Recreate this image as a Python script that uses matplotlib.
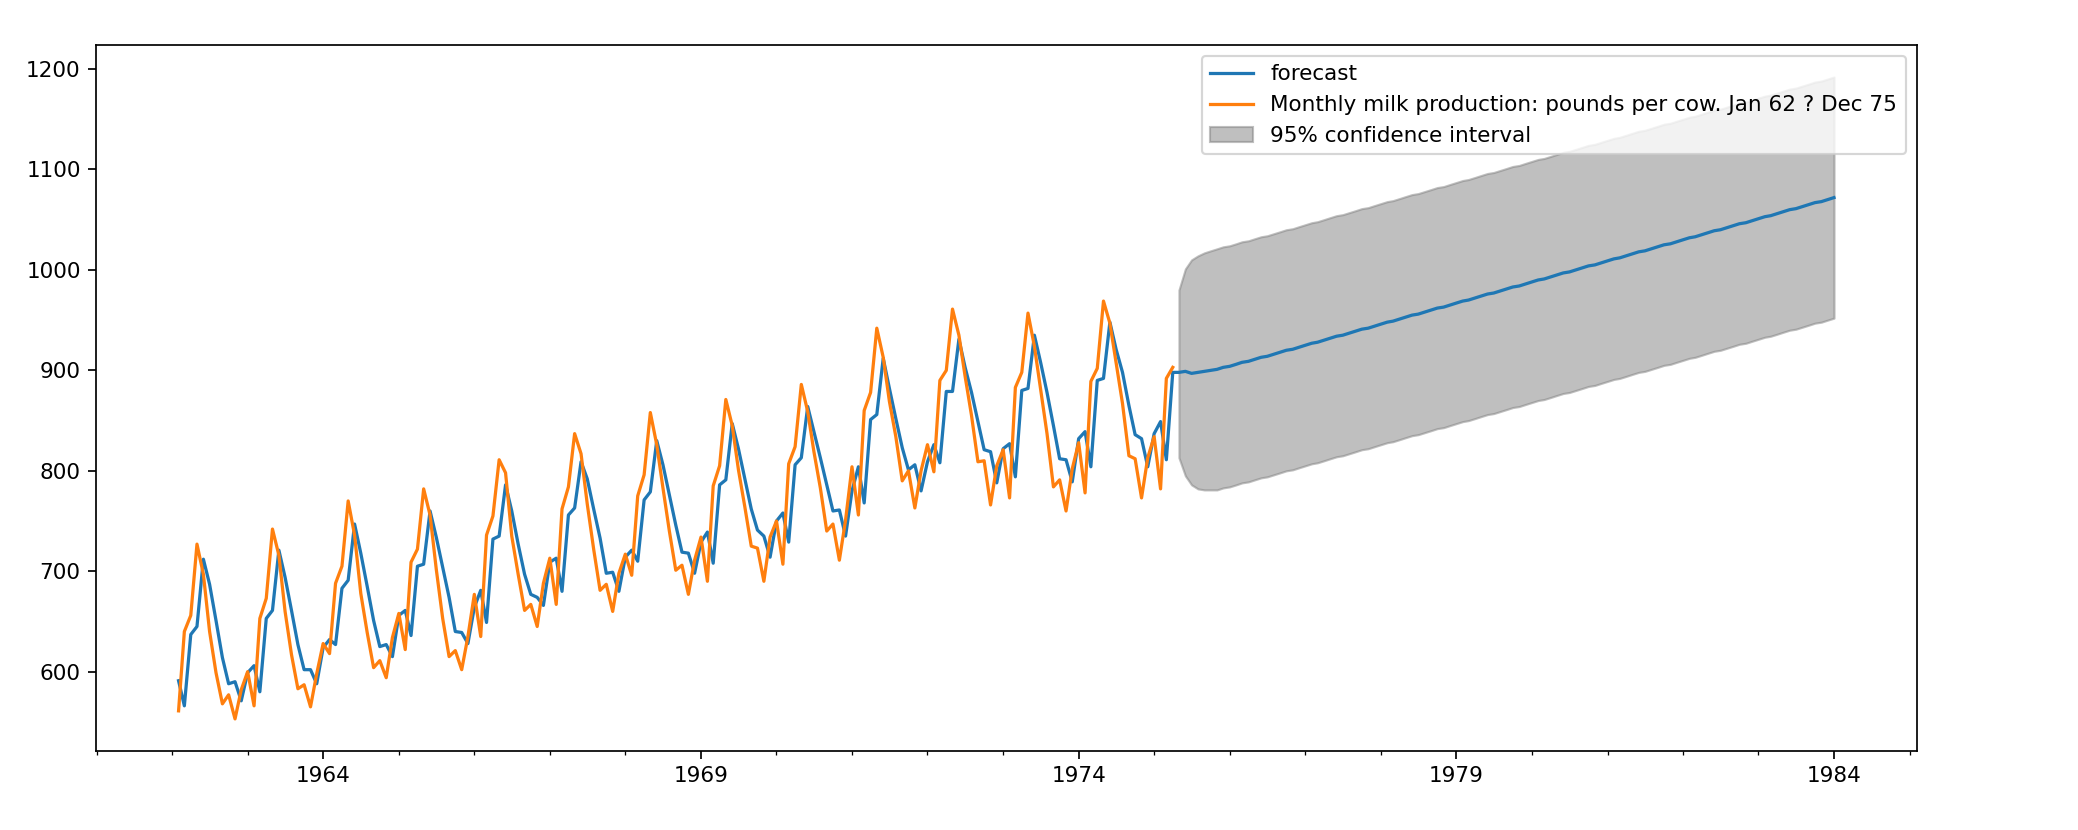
import matplotlib
matplotlib.use("Agg")
import matplotlib.pyplot as plt
import matplotlib.dates as mdates
import pandas as pd

# observed series, Feb 1962 .. Apr 1975
milk = [
    561, 640, 656, 727, 697, 640, 599, 568, 577, 553, 582,
    600, 566, 653, 673, 742, 716, 660, 617, 583, 587, 565, 598,
    628, 618, 688, 705, 770, 736, 678, 639, 604, 611, 594, 634,
    658, 622, 709, 722, 782, 756, 702, 653, 615, 621, 602, 635,
    677, 635, 736, 755, 811, 798, 735, 697, 661, 667, 645, 688,
    713, 667, 762, 784, 837, 817, 767, 722, 681, 687, 660, 698,
    717, 696, 775, 796, 858, 826, 783, 740, 701, 706, 677, 711,
    734, 690, 785, 805, 871, 845, 801, 764, 725, 723, 690, 734,
    750, 707, 807, 824, 886, 859, 819, 783, 740, 747, 711, 751,
    804, 756, 860, 878, 942, 913, 869, 834, 790, 800, 763, 800,
    826, 799, 890, 900, 961, 935, 894, 855, 809, 810, 766, 805,
    821, 773, 883, 898, 957, 924, 881, 837, 784, 791, 760, 802,
    828, 778, 889, 902, 969, 947, 908, 867, 815, 812, 773, 813,
    834, 782, 892, 903,
]

# in-sample predictions, Feb 1962 .. Apr 1975
fc_in = [
    591, 566, 637, 645, 712, 687, 651, 614, 588, 590, 571, 599,
    606, 580, 653, 661, 721, 694, 661, 627, 602, 602, 588, 624,
    632, 627, 683, 691, 747, 718, 685, 651, 625, 627, 615, 656,
    661, 636, 705, 707, 760, 734, 704, 674, 640, 639, 628, 664,
    681, 649, 732, 735, 786, 760, 727, 697, 677, 674, 666, 709,
    713, 680, 756, 763, 809, 792, 762, 733, 698, 699, 680, 714,
    721, 710, 771, 779, 830, 806, 776, 746, 719, 718, 698, 729,
    739, 708, 786, 791, 847, 822, 792, 762, 741, 735, 714, 750,
    758, 729, 806, 813, 864, 839, 813, 786, 760, 761, 735, 780,
    804, 768, 851, 856, 912, 882, 852, 823, 801, 806, 780, 809,
    826, 808, 879, 879, 931, 903, 878, 849, 821, 819, 788, 822,
    827, 794, 880, 882, 935, 908, 878, 845, 812, 811, 789, 832,
    839, 804, 890, 892, 948, 921, 898, 865, 836, 832, 804, 837,
    849, 811, 898,
]

# out-of-sample forecast, May 1975 .. Jan 1984
fc_out = [
    898, 899, 897, 898, 899, 900, 901, 903, 904, 906, 908, 909,
    911, 913, 914, 916, 918, 920, 921, 923, 925, 927,
    928, 930, 932, 934, 935, 937, 939, 941, 942, 944,
    946, 948, 949, 951, 953, 955, 956, 958, 960, 962,
    963, 965, 967, 969, 970, 972, 974, 976, 977, 979,
    981, 983, 984, 986, 988, 990, 991, 993, 995, 997,
    998, 1000, 1002, 1004, 1005, 1007, 1009, 1011, 1012, 1014,
    1016, 1018, 1019, 1021, 1023, 1025, 1026, 1028, 1030, 1032,
    1033, 1035, 1037, 1039, 1040, 1042, 1044, 1046, 1047, 1049,
    1051, 1053, 1054, 1056, 1058, 1060, 1061, 1063, 1065, 1067,
    1068, 1070, 1072,
]

ci_upper = [
    980, 1001, 1010, 1014, 1017, 1019, 1021, 1023, 1024, 1026, 1028, 1029,
    1031, 1033, 1034, 1036, 1038, 1040, 1041, 1043, 1045, 1047,
    1048, 1050, 1052, 1054, 1055, 1057, 1059, 1061, 1062, 1064,
    1066, 1068, 1069, 1071, 1073, 1075, 1076, 1078, 1080, 1082,
    1083, 1085, 1087, 1089, 1090, 1092, 1094, 1096, 1097, 1099,
    1101, 1103, 1104, 1106, 1108, 1110, 1111, 1113, 1115, 1117,
    1118, 1120, 1122, 1124, 1125, 1127, 1129, 1131, 1132, 1134,
    1136, 1138, 1139, 1141, 1143, 1145, 1146, 1148, 1150, 1152,
    1153, 1155, 1157, 1159, 1160, 1162, 1164, 1166, 1167, 1169,
    1171, 1173, 1174, 1176, 1178, 1180, 1181, 1183, 1185, 1187,
    1188, 1190, 1192,
]

ci_lower = [
    813, 795, 786, 782, 781, 781, 781, 783, 784, 786, 788, 789,
    791, 793, 794, 796, 798, 800, 801, 803, 805, 807,
    808, 810, 812, 814, 815, 817, 819, 821, 822, 824,
    826, 828, 829, 831, 833, 835, 836, 838, 840, 842,
    843, 845, 847, 849, 850, 852, 854, 856, 857, 859,
    861, 863, 864, 866, 868, 870, 871, 873, 875, 877,
    878, 880, 882, 884, 885, 887, 889, 891, 892, 894,
    896, 898, 899, 901, 903, 905, 906, 908, 910, 912,
    913, 915, 917, 919, 920, 922, 924, 926, 927, 929,
    931, 933, 934, 936, 938, 940, 941, 943, 945, 947,
    948, 950, 952,
]

tick_labels = ["1964", "1969", "1974", "1979", "1984"]
series_label = "Monthly milk production: pounds per cow. Jan 62 ? Dec 75"


def main():
    forecast = fc_in + fc_out
    dates_fc = pd.date_range("1962-02-01", periods=len(forecast), freq="MS")
    dates_obs = dates_fc[:len(milk)]
    dates_ci = dates_fc[len(fc_in):len(fc_in) + len(ci_upper)]

    dpi = 155
    fig = plt.figure(figsize=(2078 / dpi, 830 / dpi), dpi=dpi)
    ax = fig.add_axes([0.0461, 0.0952, 0.8763, 0.8506])

    ax.plot(dates_fc, forecast, label="forecast")
    ax.plot(dates_obs, milk, label=series_label)
    ax.fill_between(dates_ci, ci_lower, ci_upper, color="gray", alpha=.5,
                    label="95% confidence interval")

    ax.set_xticks(pd.to_datetime([t + "-01-01" for t in tick_labels]))
    ax.set_xticklabels(tick_labels)
    ax.xaxis.set_minor_locator(mdates.YearLocator(1))

    ax.legend(loc="upper right")
    fig.savefig("out.png", dpi=dpi)


if __name__ == "__main__":
    main()
